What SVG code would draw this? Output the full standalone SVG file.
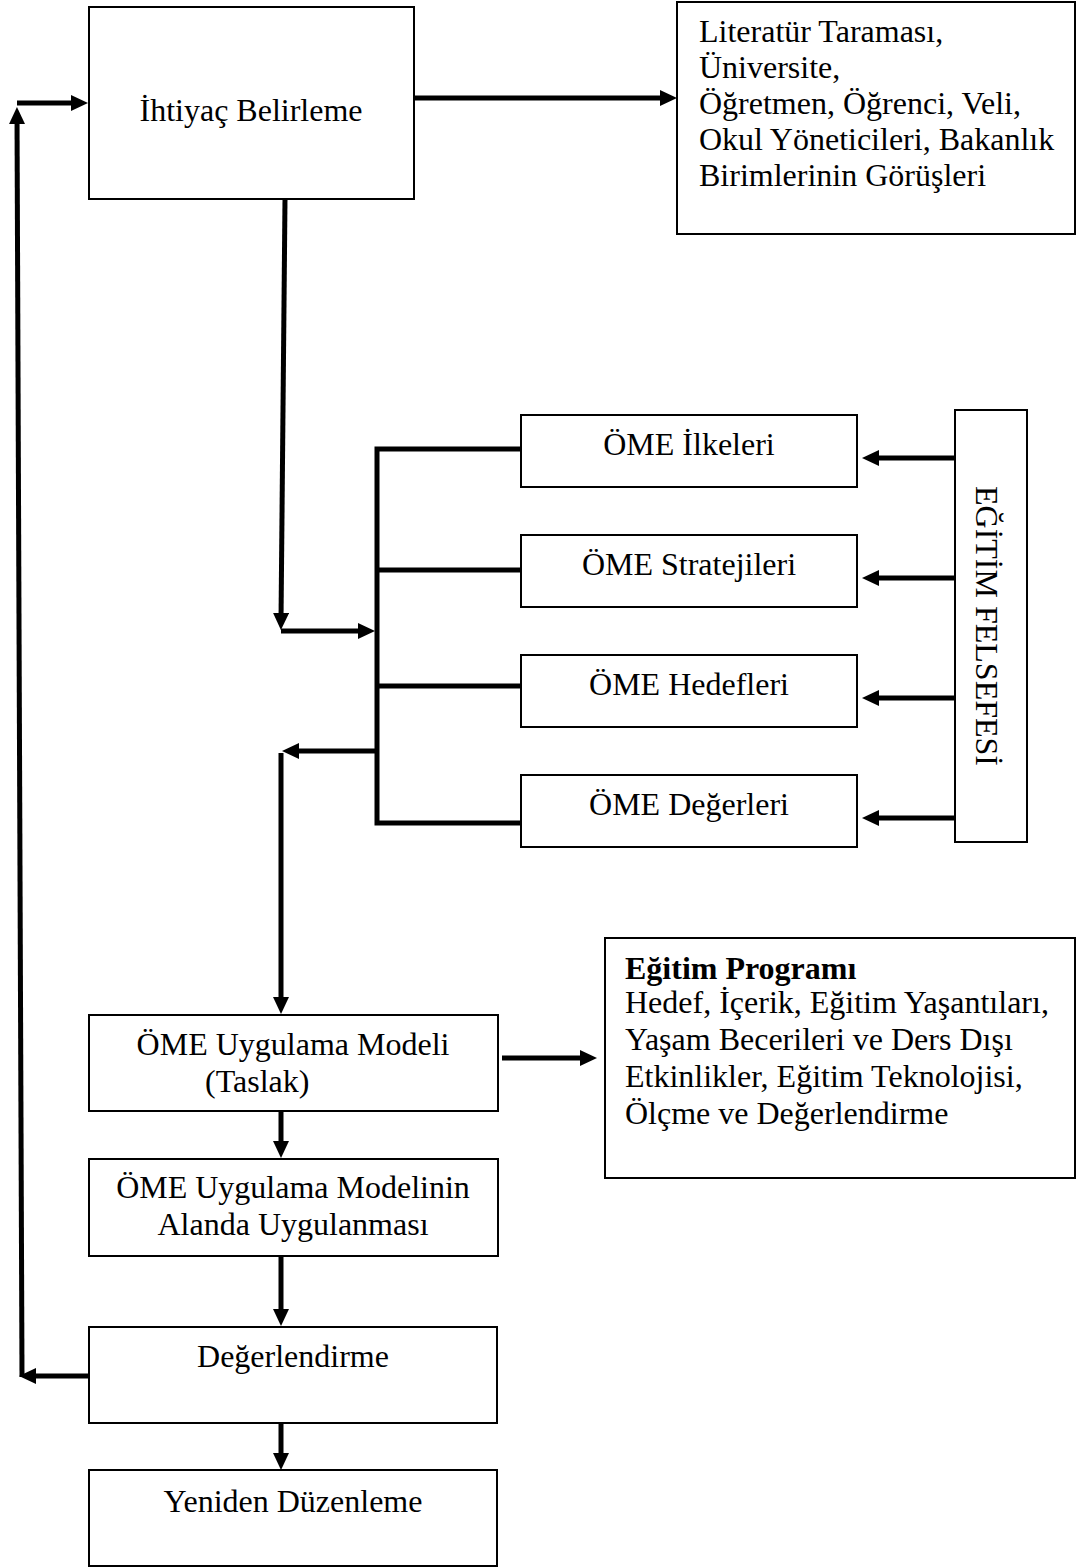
<svg xmlns="http://www.w3.org/2000/svg" width="1080" height="1567" viewBox="0 0 1080 1567">
  <style>
    .box { fill: #ffffff; stroke: #000000; stroke-width: 2; }
    .lbl { font-family: "Liberation Serif", "Times New Roman", serif; font-size: 32px; fill: #000000; }
    .mid { text-anchor: middle; }
    .bold { font-weight: bold; }
    .wire { fill: none; stroke: #000000; stroke-width: 5; stroke-linejoin: miter; }
    .arrow { marker-end: url(#head); }
  </style>
  <defs>
    <marker id="head" markerUnits="userSpaceOnUse" markerWidth="17" markerHeight="16" viewBox="0 0 17 16" refX="8" refY="8" orient="auto">
      <path d="M0,0 L17,8 L0,16 z" fill="#000000"/>
    </marker>
  </defs>

  <rect width="1080" height="1567" fill="#ffffff"/>

  <!-- connectors -->
  <g id="connectors">
    <path class="wire arrow" d="M414,98 H668"/>
    <path class="wire arrow" d="M285,199 L281,621"/>
    <path class="wire arrow" d="M281,631 H366"/>
    <!-- bus feeding the four ÖME boxes -->
    <path class="wire" d="M521,449 H377 V823 H521"/>
    <path class="wire" d="M377,570 H521"/>
    <path class="wire" d="M377,686 H521"/>
    <path class="wire arrow" d="M377,751 H291"/>
    <path class="wire arrow" d="M281,753 V1005"/>
    <!-- main vertical chain -->
    <path class="wire arrow" d="M502,1058 H588"/>
    <path class="wire arrow" d="M281,1111 V1149"/>
    <path class="wire arrow" d="M281,1256 V1317"/>
    <path class="wire arrow" d="M281,1423 V1461"/>
    <!-- feedback loop back to the top -->
    <path class="wire arrow" d="M89,1376 H28"/>
    <path class="wire arrow" d="M22,1377 L17,116"/>
    <path class="wire arrow" d="M17,103 H79"/>
    <!-- philosophy arrows -->
    <path class="wire arrow" d="M955,458 H871"/>
    <path class="wire arrow" d="M955,578 H871"/>
    <path class="wire arrow" d="M955,698 H871"/>
    <path class="wire arrow" d="M955,818 H871"/>
  </g>

  <g id="ihtiyac">
    <rect class="box" x="89" y="7" width="325" height="192"/>
    <text class="lbl mid" x="251" y="121">İhtiyaç Belirleme</text>
  </g>

  <g id="kaynaklar">
    <rect class="box" x="677" y="2" width="398" height="232"/>
    <text class="lbl" x="699" y="42">Literatür Taraması,</text>
    <text class="lbl" x="699" y="78">Üniversite,</text>
    <text class="lbl" x="699" y="114">Öğretmen, Öğrenci, Veli,</text>
    <text class="lbl" x="699" y="150">Okul Yöneticileri, Bakanlık</text>
    <text class="lbl" x="699" y="186">Birimlerinin Görüşleri</text>
  </g>

  <g id="ilkeler">
    <rect class="box" x="521" y="415" width="336" height="72"/>
    <text class="lbl mid" x="689" y="455">ÖME İlkeleri</text>
  </g>
  <g id="stratejiler">
    <rect class="box" x="521" y="535" width="336" height="72"/>
    <text class="lbl mid" x="689" y="575">ÖME Stratejileri</text>
  </g>
  <g id="hedefler">
    <rect class="box" x="521" y="655" width="336" height="72"/>
    <text class="lbl mid" x="689" y="695">ÖME Hedefleri</text>
  </g>
  <g id="degerler">
    <rect class="box" x="521" y="775" width="336" height="72"/>
    <text class="lbl mid" x="689" y="815">ÖME Değerleri</text>
  </g>

  <g id="felsefe">
    <rect class="box" x="955" y="410" width="72" height="432"/>
    <text class="lbl mid" transform="translate(976,626) rotate(90)">EĞİTİM FELSEFESİ</text>
  </g>

  <g id="uygulama-modeli">
    <rect class="box" x="89" y="1015" width="409" height="96"/>
    <text class="lbl mid" x="293" y="1055">ÖME Uygulama Modeli</text>
    <text class="lbl" x="205" y="1092">(Taslak)</text>
  </g>

  <g id="egitim-programi">
    <rect class="box" x="605" y="938" width="470" height="240"/>
    <text class="lbl bold" x="625" y="979">Eğitim Programı</text>
    <text class="lbl" x="625" y="1013">Hedef, İçerik, Eğitim Yaşantıları,</text>
    <text class="lbl" x="625" y="1050">Yaşam Becerileri ve Ders Dışı</text>
    <text class="lbl" x="625" y="1087">Etkinlikler, Eğitim Teknolojisi,</text>
    <text class="lbl" x="625" y="1124">Ölçme ve Değerlendirme</text>
  </g>

  <g id="alanda-uygulama">
    <rect class="box" x="89" y="1159" width="409" height="97"/>
    <text class="lbl mid" x="293" y="1198">ÖME Uygulama Modelinin</text>
    <text class="lbl mid" x="293" y="1235">Alanda Uygulanması</text>
  </g>

  <g id="degerlendirme">
    <rect class="box" x="89" y="1327" width="408" height="96"/>
    <text class="lbl mid" x="293" y="1367">Değerlendirme</text>
  </g>

  <g id="yeniden-duzenleme">
    <rect class="box" x="89" y="1470" width="408" height="96"/>
    <text class="lbl mid" x="293" y="1512">Yeniden Düzenleme</text>
  </g>
</svg>
